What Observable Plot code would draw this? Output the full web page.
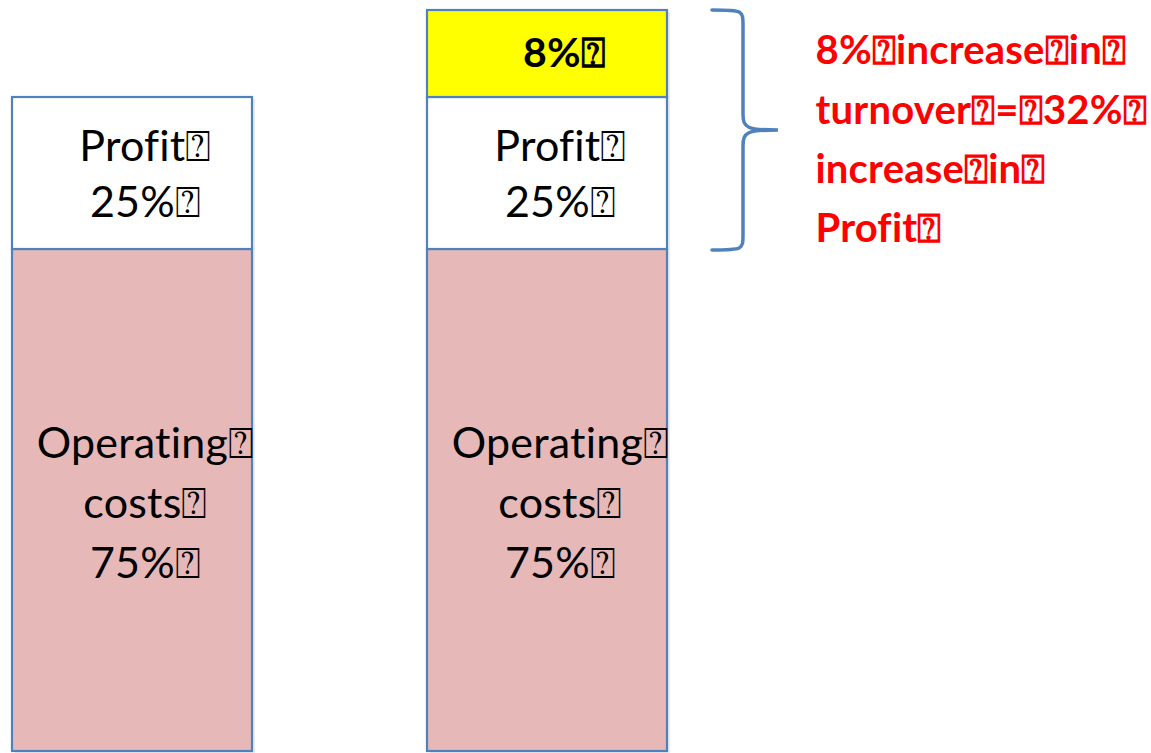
<!DOCTYPE html>
<html><head><meta charset="utf-8">
<script src="https://cdn.jsdelivr.net/npm/d3@7"></script>
<script src="https://cdn.jsdelivr.net/npm/@observablehq/plot@0.6"></script>
<style>body{margin:0;background:#fff;} svg{display:block} svg text, svg tspan{font-variant-ligatures:none !important;font-feature-settings:"liga" 0, "clig" 0 !important;letter-spacing:0.2px;}</style>
</head><body><div id="chart"></div>
<script>
const Q = "\u2370";
const bars = ["Before", "After"];
const operatingCosts = [75, 75];
const profit = [25, 25];
const increase = [0, 8];
const operatingLabels = ["Operating" + Q + "\ncosts" + Q + "\n75%" + Q, "Operating" + Q + "\ncosts" + Q + "\n75%" + Q];
const profitLabels = ["Profit" + Q + "\n25%" + Q, "Profit" + Q + "\n25%" + Q];
const increaseLabels = ["", "8%" + Q];
const noteLines = ["8%" + Q + "increase" + Q + "in" + Q, "turnover" + Q + "=" + Q + "32%" + Q, "increase" + Q + "in" + Q, "Profit" + Q];

const blue = "#4f81bd";
const rows = [];
bars.forEach((b, i) => {
  rows.push({bar: b, seg: "op", y1: 0, y2: operatingCosts[i], label: operatingLabels[i]});
  rows.push({bar: b, seg: "profit", y1: operatingCosts[i], y2: operatingCosts[i] + profit[i], label: profitLabels[i]});
  if (increase[i] > 0) rows.push({bar: b, seg: "inc", y1: operatingCosts[i] + profit[i], y2: operatingCosts[i] + profit[i] + increase[i], label: increaseLabels[i]});
});
const fills = {op: "#e6b8b7", profit: "#ffffff", inc: "#ffff00"};

const braceTop = operatingCosts[1] + profit[1] + increase[1];
const braceBottom = operatingCosts[1];

function braceMark(index, scales, values, dims) {
  let bw = 0;
  const sx = scales.x;
  if (typeof sx.bandwidth === "function") bw = sx.bandwidth();
  else if (typeof sx.bandwidth === "number") bw = sx.bandwidth;
  else if (scales.scales && scales.scales.x) bw = scales.scales.x.bandwidth;
  const right = sx("After") + bw;
  const x0 = right + 45, x1 = right + 76, x2 = right + 111;
  const top = scales.y(braceTop), bottom = scales.y(braceBottom) + 1;
  const mid = (top + bottom) / 2;
  const r = 16;
  const p = `M${x0},${top} C${x1},${top} ${x1},${top} ${x1},${top + r} L${x1},${mid - r} C${x1},${mid - 2} ${x1 + 4},${mid} ${x2},${mid} C${x1 + 4},${mid} ${x1},${mid + 2} ${x1},${mid + r} L${x1},${bottom - r} C${x1},${bottom} ${x1},${bottom} ${x0},${bottom}`;
  const g = d3.create("svg:path").attr("d", p).attr("fill", "none").attr("stroke", blue).attr("stroke-width", 3.5).attr("stroke-linecap", "round");
  return g.node();
}

const chart = Plot.plot({
  width: 1151,
  height: 753,
  margin: 0,
  style: {fontFamily: "Lato, 'Open Sans', sans-serif", background: "#fff"},
  x: {type: "band", domain: bars, range: [12, 667], paddingInner: 0.4217, paddingOuter: 0, axis: null},
  y: {type: "linear", domain: [0, 75, 100, 108], range: [751, 249, 97, 10], axis: null},
  marks: [
    Plot.barY(rows, {x: "bar", y1: "y1", y2: "y2", fill: "#000", fillOpacity: 0.08, dx: 3, dy: 2, insetLeft: 0, insetRight: 0}),
    Plot.barY(rows, {x: "bar", y1: "y1", y2: "y2", fill: d => fills[d.seg], stroke: blue, strokeWidth: 2.2, insetLeft: 0, insetRight: 0}),
    Plot.text(rows.filter(d => d.seg === "op"), {x: "bar", y: d => (d.y1 + d.y2) / 2, text: "label", fontSize: 43, lineHeight: 1.395, dx: 13, dy: -2, fill: "#000"}),
    Plot.text(rows.filter(d => d.seg === "profit"), {x: "bar", y: d => (d.y1 + d.y2) / 2, text: "label", fontSize: 43, lineHeight: 1.3, dx: 13, dy: -2, fill: "#000"}),
    Plot.text(rows.filter(d => d.seg === "inc"), {x: "bar", y: d => (d.y1 + d.y2) / 2, text: "label", fontSize: 41, fontWeight: "bold", dx: 17, dy: 0, fill: "#000"}),
    braceMark,
    Plot.text([noteLines.join("\n")], {x: () => "After", y: () => (braceTop + braceBottom) / 2, text: d => d, textAnchor: "start", dx: 268, dy: -15, fontSize: 40, fontWeight: "bold", lineHeight: 1.48, fill: "#ff0000"})
  ]
});
document.getElementById("chart").appendChild(chart);
</script>
</body></html>
